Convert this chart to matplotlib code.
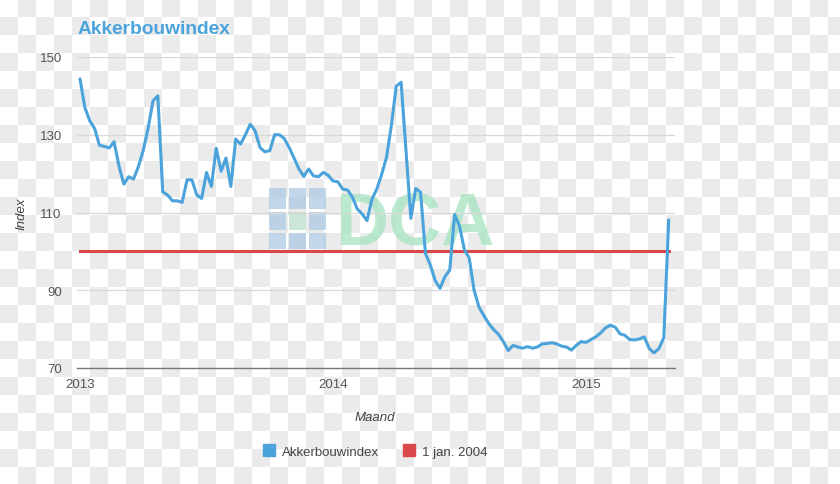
import numpy as np
import matplotlib
matplotlib.use('Agg')
import matplotlib.pyplot as plt
from matplotlib.patches import Patch, Rectangle

plt.rcParams['font.family'] = ['Liberation Sans', 'DejaVu Sans']

# weekly akkerbouwindex, first week of 2013 up to april 2015
akkerbouw = [
    144.3, 137.0, 133.6, 131.6, 127.3, 127.0, 126.6, 128.2, 122.0, 117.3,
    119.2, 118.6, 121.8, 126.0, 131.7, 138.7, 140.0, 115.3, 114.5, 113.0,
    113.0, 112.6, 118.4, 118.4, 114.5, 113.6, 120.3, 116.7, 126.5, 120.6,
    124.0, 116.7, 128.9, 127.6, 130.0, 132.7, 131.0, 126.7, 125.6, 125.9,
    130.0, 130.0, 129.0, 126.7, 124.0, 121.2, 119.3, 121.2, 119.4, 119.2,
    120.3, 119.6, 118.1, 117.9, 116.0, 115.8, 113.9, 110.9, 109.6, 107.9,
    113.4, 116.0, 119.8, 124.2, 132.4, 142.5, 143.5, 126.0, 108.5, 116.2,
    115.2, 99.5, 96.5, 92.5, 90.5, 93.5, 95.2, 109.5, 106.5, 100.5,
    98.3, 90.0, 85.7, 83.5, 81.5, 79.9, 78.7, 76.8, 74.5, 75.8,
    75.4, 75.1, 75.5, 75.1, 75.4, 76.2, 76.3, 76.5, 76.2, 75.6,
    75.4, 74.6, 75.8, 76.8, 76.6, 77.3, 78.0, 79.0, 80.3, 81.0,
    80.5, 78.8, 78.4, 77.3, 77.2, 77.5, 78.0, 75.0, 73.9, 75.0,
    77.8, 108.0,
]
basis_2004 = 100
year_labels = ['2013', '2014', '2015']
year_weeks = [0, 52, 104]
y_ticks = [70, 90, 110, 130, 150]

weeks = np.arange(len(akkerbouw))
blue = '#4ba3dc'
red = '#d9474a'
W, H = 840, 485

fig = plt.figure(figsize=(W / 100, H / 100), dpi=100)

# transparency checkerboard behind everything
yy, xx = np.mgrid[0:H, 0:W]
cell = (xx // 18 + yy // 18) % 2
grey = np.where(cell == 1, 0.925, 1.0)
fig.figimage(np.dstack([grey, grey, grey]), xo=0, yo=0, zorder=0, origin='upper')

def fx(px):
    return px / W

def fy(py):
    return 1 - py / H

# DCA watermark
logo_cols = [269, 289, 309]
logo_rows = [(189, 210), (213, 231), (234, 250)]
for r, (y0, y1) in enumerate(logo_rows):
    for c, x0 in enumerate(logo_cols):
        col = '#b5dcc8' if (r == 1 and c == 1) else '#a9c6e0'
        fig.add_artist(Rectangle((fx(x0), fy(y1)), fx(17), (y1 - y0) / H,
                                 transform=fig.transFigure, color=col,
                                 alpha=0.7, lw=0, zorder=1))
fig.text(fx(335), fy(245), 'DCA', fontsize=53, fontweight='bold',
         color='#a6e3c2', alpha=0.75, va='baseline', ha='left', zorder=1)

ax = fig.add_axes([fx(77), fy(369), (675 - 77) / W, (369 - 58) / H])
ax.set_facecolor('none')
ax.set_zorder(2)

ax.plot(weeks, [basis_2004] * len(weeks), color=red, lw=2.2, zorder=3)
ax.plot(weeks, akkerbouw, color=blue, lw=2.2, zorder=4,
        solid_joinstyle='round')

ax.set_xlim(-0.62, 122.3)
ax.set_ylim(70, 150)
ax.set_yticks(y_ticks)
ax.set_xticks(year_weeks)
ax.set_xticklabels(year_labels)
ax.grid(axis='y', color='#d8d8d8', lw=0.9)
ax.tick_params(axis='both', length=0, labelsize=9.5, labelcolor='#555555')
ax.tick_params(axis='y', pad=11)
ax.tick_params(axis='x', pad=7)
for s in ['top', 'right', 'left']:
    ax.spines[s].set_visible(False)
ax.spines['bottom'].set_color('#777777')
ax.spines['bottom'].set_linewidth(1.0)

ax.set_ylabel('Index', fontsize=9.5, style='italic', color='#444444', labelpad=9)
fig.text(fx(375), fy(418), 'Maand', fontsize=9.5, style='italic',
         color='#444444', ha='center', va='center')

fig.text(fx(78), fy(29), 'Akkerbouwindex', fontsize=13.8, fontweight='bold',
         color=blue, ha='left', va='center')

handles = [Patch(color=blue, label='Akkerbouwindex'),
           Patch(color=red, label='1 jan. 2004')]
leg = fig.legend(handles=handles, loc='center', bbox_to_anchor=(fx(375), fy(452)),
                 ncol=2, frameon=False, fontsize=9.5, handlelength=0.95,
                 handleheight=0.95, handletextpad=0.5, columnspacing=1.8)
for t in leg.get_texts():
    t.set_color('#444444')

fig.savefig('out.png', dpi=100)
